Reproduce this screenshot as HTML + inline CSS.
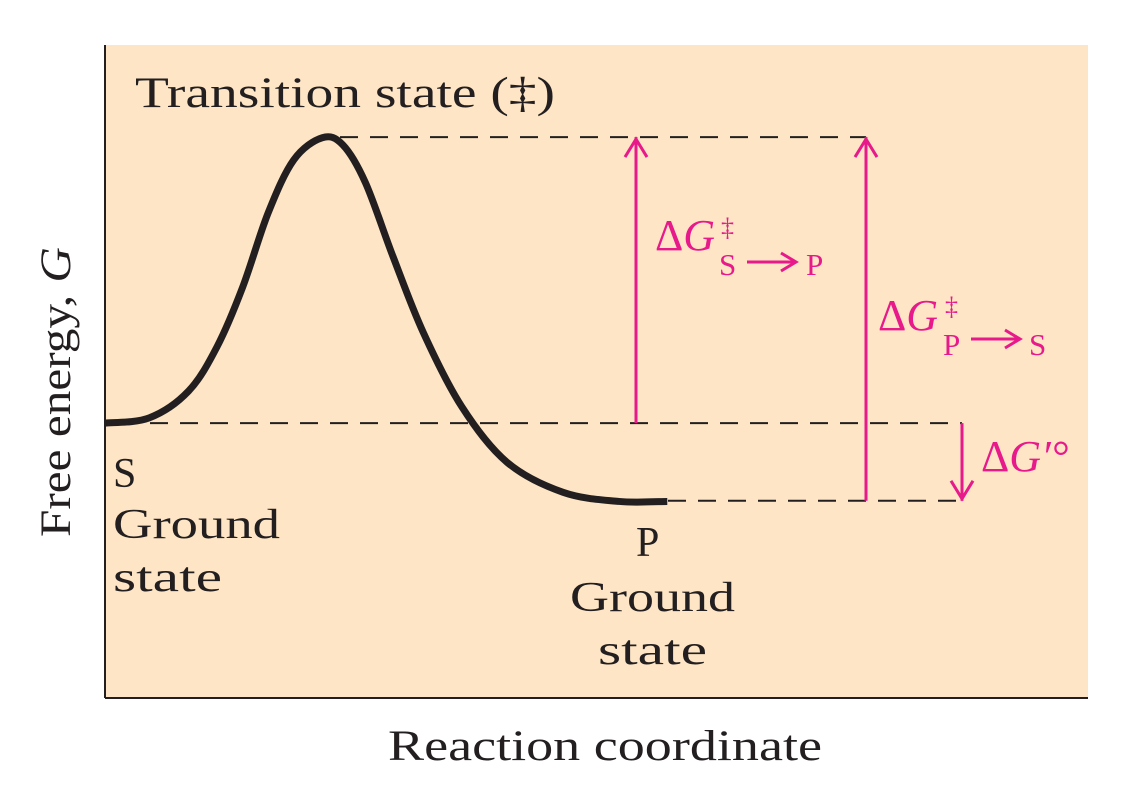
<!DOCTYPE html>
<html><head><meta charset="utf-8"><style>
html,body{margin:0;padding:0;background:#fff;}
svg{display:block;font-family:"Liberation Serif",serif;}
</style></head><body>
<svg width="1137" height="787" viewBox="0 0 1137 787">
<rect x="105" y="45" width="983" height="653" fill="#fde5c5"/>
<line x1="105" y1="45" x2="105" y2="698" stroke="#231f20" stroke-width="2"/>
<line x1="105" y1="698" x2="1088" y2="698" stroke="#231f20" stroke-width="2"/>
<g id="g"></g>
<text x="135" y="107" font-size="43" fill="#231f20" textLength="420" lengthAdjust="spacingAndGlyphs">Transition state (‡)</text>
<text transform="translate(70,537) rotate(-90)" font-size="43" fill="#231f20" textLength="290" lengthAdjust="spacingAndGlyphs">Free energy, <tspan font-style="italic">G</tspan></text>
<text x="388" y="760" font-size="43" fill="#231f20" textLength="434" lengthAdjust="spacingAndGlyphs">Reaction coordinate</text>
<g font-size="42" fill="#231f20">
<text x="113" y="487">S</text>
<text x="113" y="538" textLength="167" lengthAdjust="spacingAndGlyphs">Ground</text>
<text x="113" y="591" textLength="109" lengthAdjust="spacingAndGlyphs">state</text>
</g>
<g font-size="42" fill="#231f20">
<text x="636" y="556">P</text>
<text x="570" y="611" textLength="165" lengthAdjust="spacingAndGlyphs">Ground</text>
<text x="598" y="664" textLength="109" lengthAdjust="spacingAndGlyphs">state</text>
</g>
<g fill="#e8198b">
<text x="655" y="250" font-size="44">Δ<tspan font-style="italic">G</tspan></text>
<text x="721" y="236" font-size="26">‡</text>
<text x="719" y="275" font-size="31">S</text>
<text x="806" y="275" font-size="31">P</text>
</g>
<line x1="747" y1="262" x2="795" y2="262" stroke="#e8198b" stroke-width="3"/>
<polyline points="781,253 796,262 781,271" fill="none" stroke="#e8198b" stroke-width="3"/>
<g fill="#e8198b">
<text x="878" y="330" font-size="44">Δ<tspan font-style="italic">G</tspan></text>
<text x="945" y="315" font-size="26">‡</text>
<text x="943" y="355" font-size="31">P</text>
<text x="1029" y="355" font-size="31">S</text>
</g>
<line x1="971" y1="339" x2="1019" y2="339" stroke="#e8198b" stroke-width="3"/>
<polyline points="1005,330 1020,339 1005,348" fill="none" stroke="#e8198b" stroke-width="3"/>
<text x="981" y="471" font-size="44" fill="#e8198b">Δ<tspan font-style="italic">G′°</tspan></text>
</svg>
<script>
const rxnCoord=[0,4.5,8.5,11.4,14.0,16.6,19.2,22.1,24.2,26.5,29.3,32.4,36.3,40.9,46.6,52.3,57.2];
const freeEnergy=[42.1,42.9,47.0,53.8,62.9,74.3,82.4,85.8,84.7,78.9,67.6,55.9,44.6,36.1,31.5,30.1,30.1];
const levelS=42.1, levelTS=85.9, levelP=30.2;
const X=v=>105+v*9.83, Y=v=>698-v*6.53;
const g=document.getElementById('g'), NS='http://www.w3.org/2000/svg';
function mk(t,a){const e=document.createElementNS(NS,t);for(const k in a)e.setAttribute(k,a[k]);g.appendChild(e);return e;}
const yS=Y(levelS), yT=Y(levelTS), yP=Y(levelP);
let e;
e=mk('line',{x1:340,y1:yT,x2:866,y2:yT,stroke:'#231f20','stroke-width':2,'stroke-dasharray':'18,12'});


e=mk('line',{x1:150,y1:yS,x2:962,y2:yS,stroke:'#231f20','stroke-width':2,'stroke-dasharray':'18,12'});


e=mk('line',{x1:668,y1:yP,x2:962,y2:yP,stroke:'#231f20','stroke-width':2,'stroke-dasharray':'18,12'});


const pts=rxnCoord.map((x,i)=>[X(x),Y(freeEnergy[i])]);
let d='M'+pts[0][0]+','+pts[0][1];
for(let i=0;i<pts.length-1;i++){const p0=pts[Math.max(0,i-1)],p1=pts[i],p2=pts[i+1],p3=pts[Math.min(pts.length-1,i+2)];
d+=` C${p1[0]+(p2[0]-p0[0])/6},${p1[1]+(p2[1]-p0[1])/6} ${p2[0]-(p3[0]-p1[0])/6},${p2[1]-(p3[1]-p1[1])/6} ${p2[0]},${p2[1]}`;}
e=mk('path',{d:d,fill:'none',stroke:'#231f20','stroke-width':7});


function arrow(x,y1,y2,name){
 const l=mk('line',{x1:x,y1:y1,x2:x,y2:y2,stroke:'#e8198b','stroke-width':3});
 
 
 const s=y2<y1?1:-1;
 const h=mk('polyline',{points:`${x-11},${y2+s*20} ${x},${y2+s*2} ${x+11},${y2+s*20}`,fill:'none',stroke:'#e8198b','stroke-width':3});
 
 
}
arrow(636,yS,yT,'arrow-s-to-p');
arrow(866,yP,yT,'arrow-p-to-s');
arrow(962,yS,yP,'arrow-delta-g');
</script>
</body></html>
